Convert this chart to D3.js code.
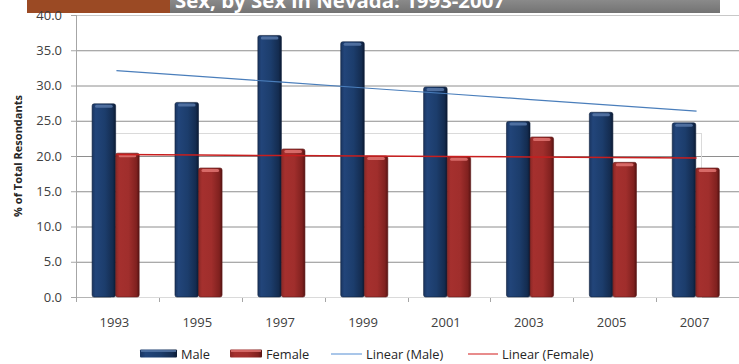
<!DOCTYPE html>
<html lang="en">
<head>
    <meta charset="UTF-8">
    <title>Nevada by Sex</title>
    <script src="https://d3js.org/d3.v7.min.js"></script>
    <style>
        body {
            margin: 0;
            background-color: white;
        }
        svg {
            display: block;
            font-family: "Open Sans", "DejaVu Sans", sans-serif;
        }
    </style>
</head>
<body>

    <svg width="739" height="364"></svg>

    <script>
        // chart data
        const years = ["1993", "1995", "1997", "1999", "2001", "2003", "2005", "2007"];
        const maleValues = [27.4, 27.6, 37.1, 36.2, 29.8, 24.9, 26.2, 24.7];
        const femaleValues = [20.4, 18.3, 21.0, 20.0, 19.9, 22.7, 19.1, 18.3];
        const seriesNames = ["Male", "Female"];
        const yTicks = [0, 5, 10, 15, 20, 25, 30, 35, 40];
        const legendLabels = ["Male", "Female", "Linear (Male)", "Linear (Female)"];
        const titleText = "Sex, by Sex in Nevada: 1993-2007";
        const yAxisTitle = "% of Total Resondants";

        // d3 element
        const svgElement = d3.select('svg');
        const defs = svgElement.append("defs");

        // plot box
        const plotLeft = 76, plotRight = 739, plotTop = 15, plotBottom = 297;

        // scales
        const xScale = d3.scaleBand()
            .domain(years)
            .range([plotLeft, plotRight])
            .paddingInner(0)
            .paddingOuter(0);

        const xInner = d3.scaleBand()
            .domain(seriesNames)
            .range([0, xScale.bandwidth()])
            .paddingInner(0)
            .paddingOuter(0.76)
            .align(0.45);

        const yScale = d3.scaleLinear()
            .domain([0, 40])
            .range([plotBottom, plotTop]);

        // gradients for the bars
        function barGradient(id, stops) {
            const g = defs.append("linearGradient")
                .attr("id", id)
                .attr("x1", "0").attr("y1", "0")
                .attr("x2", "1").attr("y2", "0");
            stops.forEach(s => {
                g.append("stop").attr("offset", s[0]).attr("stop-color", s[1]);
            });
        }
        barGradient("maleGrad", [[0, "#1a3560"], [0.15, "#22457a"], [0.55, "#1c3d6c"], [0.88, "#142c50"], [1, "#0b1a33"]]);
        barGradient("femaleGrad", [[0, "#8a2826"], [0.15, "#a5302e"], [0.55, "#a02e2c"], [0.88, "#80211f"], [1, "#561312"]]);

        // title banner (cut at top, as in the source)
        svgElement.append("rect")
            .attr("x", 27).attr("y", 0)
            .attr("width", 143).attr("height", 13)
            .attr("fill", "#9b4a24");
        const bannerGrad = defs.append("linearGradient")
            .attr("id", "bannerGrad")
            .attr("x1", "0").attr("y1", "0").attr("x2", "0").attr("y2", "1");
        bannerGrad.append("stop").attr("offset", 0).attr("stop-color", "#8a8a8a");
        bannerGrad.append("stop").attr("offset", 1).attr("stop-color", "#737373");
        svgElement.append("rect")
            .attr("x", 170).attr("y", 0)
            .attr("width", 550).attr("height", 13)
            .attr("fill", "url(#bannerGrad)");
        svgElement.append("text")
            .attr("x", 175)
            .attr("y", 8)
            .attr("fill", "white")
            .attr("font-weight", "bold")
            .attr("font-size", "20px")
            .attr("textLength", 330)
            .attr("lengthAdjust", "spacingAndGlyphs")
            .text(titleText);

        // grid lines
        yTicks.forEach(t => {
            svgElement.append("line")
                .attr("x1", plotLeft)
                .attr("x2", plotRight)
                .attr("y1", yScale(t) + 0.5)
                .attr("y2", yScale(t) + 0.5)
                .attr("stroke", t === 40 ? "#c8c8c8" : (t === 0 ? "#b4b4b4" : "#8e8e8e"))
                .attr("stroke-width", 1);
        });

        // y axis line and ticks
        svgElement.append("line")
            .attr("x1", plotLeft + 0.5).attr("x2", plotLeft + 0.5)
            .attr("y1", plotTop).attr("y2", plotBottom + 1)
            .attr("stroke", "#a6a6a6");
        yTicks.forEach(t => {
            svgElement.append("line")
                .attr("x1", plotLeft - 5).attr("x2", plotLeft)
                .attr("y1", yScale(t) + 0.5).attr("y2", yScale(t) + 0.5)
                .attr("stroke", "#a6a6a6");
            svgElement.append("text")
                .attr("x", 62)
                .attr("y", yScale(t) + 4.5)
                .attr("text-anchor", "end")
                .attr("font-size", "13px")
                .attr("fill", "#404040")
                .text(d3.format(".1f")(t));
        });

        // x axis ticks and labels
        years.concat(["end"]).forEach((yr, i) => {
            const xPos = plotLeft + i * xScale.step();
            svgElement.append("line")
                .attr("x1", Math.round(xPos) + 0.5).attr("x2", Math.round(xPos) + 0.5)
                .attr("y1", plotBottom).attr("y2", plotBottom + 5)
                .attr("stroke", "#a6a6a6");
        });
        years.forEach(yr => {
            svgElement.append("text")
                .attr("x", xScale(yr) + xScale.bandwidth() / 2 - 3)
                .attr("y", 327)
                .attr("text-anchor", "middle")
                .attr("font-size", "13px")
                .attr("fill", "#404040")
                .text(yr);
        });

        // faint box left over in the source picture
        svgElement.append("rect")
            .attr("x", 111.5).attr("y", 133.5)
            .attr("width", 590).attr("height", 164)
            .attr("fill", "none")
            .attr("stroke", "#dadada")
            .attr("stroke-width", 1);

        // bars
        const barData = [];
        years.forEach((yr, i) => {
            barData.push({year: yr, series: "Male", value: maleValues[i]});
            barData.push({year: yr, series: "Female", value: femaleValues[i]});
        });

        const barGroups = svgElement.selectAll(".bar")
            .data(barData)
            .enter()
            .append("g")
            .attr("class", "bar");

        barGroups.append("rect")
            .attr("x", d => xScale(d.year) + xInner(d.series))
            .attr("y", d => yScale(d.value))
            .attr("width", xInner.bandwidth())
            .attr("height", d => plotBottom - yScale(d.value))
            .attr("rx", 2)
            .attr("fill", d => d.series === "Male" ? "url(#maleGrad)" : "url(#femaleGrad)")
            .attr("stroke", d => d.series === "Male" ? "#0e1f3a" : "#5e1818")
            .attr("stroke-width", 0.6);

        // lighter cap on top of every bar
        barGroups.append("rect")
            .attr("x", d => xScale(d.year) + xInner(d.series) + 3)
            .attr("y", d => yScale(d.value) + 1)
            .attr("width", xInner.bandwidth() - 6)
            .attr("height", 3)
            .attr("rx", 1.5)
            .attr("fill", d => d.series === "Male" ? "#5878a8" : "#e07472")
            .attr("opacity", 0.85);

        // linear trend lines (least squares on the values)
        function trend(values) {
            const n = values.length;
            const xs = d3.range(n);
            const mx = d3.mean(xs), my = d3.mean(values);
            const slope = d3.sum(xs, i => (i - mx) * (values[i] - my)) / d3.sum(xs, i => (i - mx) * (i - mx));
            return xs.map(i => my + slope * (i - mx));
        }

        const lineGen = d3.line()
            .x((d, i) => xScale(years[i]) + xScale.bandwidth() / 2 - 1)
            .y(d => yScale(d));

        svgElement.append("path")
            .datum(trend(maleValues))
            .attr("d", lineGen)
            .attr("fill", "none")
            .attr("stroke", "#4a7ebb")
            .attr("stroke-width", 1.2);

        svgElement.append("path")
            .datum(trend(femaleValues))
            .attr("d", lineGen)
            .attr("fill", "none")
            .attr("stroke", "#c81e1e")
            .attr("stroke-width", 1.5);

        // legend
        const legendY = 354;
        const legendItems = [
            {label: legendLabels[0], kind: "bar", x: 140, w: 37, color: "url(#maleGrad)", cap: "#5878a8"},
            {label: legendLabels[1], kind: "bar", x: 230, w: 32, color: "url(#femaleGrad)", cap: "#e07472"},
            {label: legendLabels[2], kind: "line", x: 331, w: 31, color: "#8db3e2"},
            {label: legendLabels[3], kind: "line", x: 468, w: 30, color: "#e06666"}
        ];

        legendItems.forEach(item => {
            if (item.kind === "bar") {
                svgElement.append("rect")
                    .attr("x", item.x).attr("y", legendY - 4.5)
                    .attr("width", item.w).attr("height", 8)
                    .attr("rx", 1)
                    .attr("fill", item.color);
                svgElement.append("rect")
                    .attr("x", item.x + 1).attr("y", legendY - 4)
                    .attr("width", item.w - 2).attr("height", 2)
                    .attr("fill", item.cap)
                    .attr("opacity", 0.8);
            } else {
                svgElement.append("line")
                    .attr("x1", item.x).attr("x2", item.x + item.w)
                    .attr("y1", legendY).attr("y2", legendY)
                    .attr("stroke", item.color)
                    .attr("stroke-width", 1.5);
            }
            svgElement.append("text")
                .attr("x", item.x + item.w + 4)
                .attr("y", legendY + 4.5)
                .attr("font-size", "12.8px")
                .attr("fill", "#262626")
                .text(item.label);
        });

        // y axis title
        svgElement.append("text")
            .attr("transform", "translate(22," + 156 + ") rotate(-90)")
            .attr("text-anchor", "middle")
            .attr("font-size", "11px")
            .attr("font-weight", "bold")
            .attr("fill", "#262626")
            .text(yAxisTitle);
    </script>
</body>
</html>
